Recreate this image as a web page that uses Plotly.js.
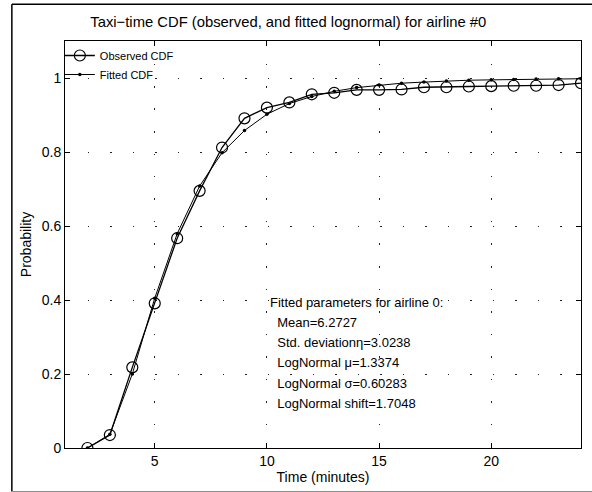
<!DOCTYPE html>
<html>
<head>
<meta charset="utf-8">
<script src="https://cdn.plot.ly/plotly-3.0.1.min.js"></script>
<style>
html, body { margin: 0; padding: 0; background: #ffffff; }
#chart { width: 592px; height: 492px; }
</style>
</head>
<body>
<div id="chart"></div>
<script>
const timeMinutes = [2, 3, 4, 5, 6, 7, 8, 9, 10, 11, 12, 13, 14, 15, 16, 17, 18, 19, 20, 21, 22, 23, 24];
const observedCDF = [0.000, 0.035, 0.218, 0.391, 0.567, 0.695, 0.812, 0.891, 0.920, 0.934, 0.956, 0.960, 0.968, 0.968, 0.969, 0.975, 0.975, 0.977, 0.978, 0.979, 0.979, 0.981, 0.986];
const fittedCDF = [0.000, 0.037, 0.200, 0.405, 0.579, 0.708, 0.798, 0.858, 0.902, 0.931, 0.950, 0.964, 0.974, 0.981, 0.986, 0.989, 0.992, 0.994, 0.995, 0.996, 0.997, 0.998, 0.998];
const xTickVals = [5, 10, 15, 20];
const yTickVals = [0, 0.2, 0.4, 0.6, 0.8, 1];
const yTickText = ['0', '0.2', '0.4', '0.6', '0.8', '1'];
const paramLines = [
  'Fitted parameters for airline 0:',
  '  Mean=6.2727',
  '  Std. deviationη=3.0238',
  '  LogNormal μ=1.3374',
  '  LogNormal σ=0.60283',
  '  LogNormal shift=1.7048'
];
const titleText = 'Taxi\u2212time CDF (observed, and fitted lognormal) for airline #0';

const FONT = 'Liberation Sans, Arial, Helvetica, sans-serif';

const traces = [
  {
    x: timeMinutes, y: observedCDF, name: 'Observed CDF',
    mode: 'lines+markers', type: 'scatter',
    line: { color: '#000', width: 1.3 },
    marker: { symbol: 'circle-open', size: 11, color: '#000', line: { width: 1.2, color: '#000' } }
  },
  {
    x: timeMinutes, y: fittedCDF, name: 'Fitted CDF',
    mode: 'lines+markers', type: 'scatter',
    line: { color: '#000', width: 1 },
    marker: { symbol: 'circle', size: 3.5, color: '#000' }
  }
];

const paramY = [0.392, 0.338, 0.284, 0.230, 0.175, 0.121];
const annotations = paramLines.map((t, i) => ({
  x: 10.05, y: paramY[i], xref: 'x', yref: 'y',
  text: t.replace(/^  /, '\u00a0\u00a0'), showarrow: false,
  xanchor: 'left', yanchor: 'middle', align: 'left',
  font: { family: FONT, size: 13, color: '#000' }
}));

const layout = {
  width: 592, height: 492,
  margin: { l: 65, r: 11, t: 41, b: 44 },
  paper_bgcolor: '#fff', plot_bgcolor: '#fff',
  font: { family: FONT, size: 13, color: '#000' },
  title: { text: titleText, x: 0.487, xanchor: 'center', y: 0.955, yanchor: 'middle',
           font: { family: FONT, size: 14.8, color: '#000' } },
  showlegend: true,
  legend: { x: -0.01, y: 1.0, xanchor: 'left', yanchor: 'top', bgcolor: 'rgba(0,0,0,0)',
            font: { family: FONT, size: 11, color: '#000' }, itemwidth: 30, tracegroupgap: 0 },
  xaxis: {
    range: [1, 24], tickvals: xTickVals, ticks: 'inside', ticklen: 5, tickcolor: '#000',
    showline: true, linecolor: '#000', linewidth: 1, mirror: 'ticks',
    showgrid: true, gridcolor: '#222', griddash: '1.5px,21px', gridwidth: 1, zeroline: false,
    tickfont: { family: FONT, size: 14 },
    title: { text: 'Time (minutes)', font: { family: FONT, size: 14 }, standoff: 4 }
  },
  yaxis: {
    range: [0, 1.1], tickvals: yTickVals, ticktext: yTickText, ticks: 'inside', ticklen: 5, tickcolor: '#000',
    showline: true, linecolor: '#000', linewidth: 1, mirror: 'ticks',
    showgrid: true, gridcolor: '#222', griddash: '1.5px,21px', gridwidth: 1, zeroline: false,
    tickfont: { family: FONT, size: 14 },
    title: { text: 'Probability', font: { family: FONT, size: 14 }, standoff: 6 }
  },
  annotations: annotations,
  shapes: [
    { type: 'line', xref: 'paper', yref: 'paper', x0: -0.103, x1: -0.103, y0: -0.107, y1: 1.09, line: { color: '#000', width: 1.5 } },
    { type: 'line', xref: 'paper', yref: 'paper', x0: -0.103, x1: 1.05, y0: 1.09, y1: 1.09, line: { color: '#000', width: 1.5 } },
    { type: 'line', xref: 'paper', yref: 'paper', x0: -0.103, x1: 1.05, y0: -0.107, y1: -0.107, line: { color: '#888', width: 1 } }
  ]
};

Plotly.newPlot('chart', traces, layout, { staticPlot: true, displayModeBar: false });
</script>
</body>
</html>
